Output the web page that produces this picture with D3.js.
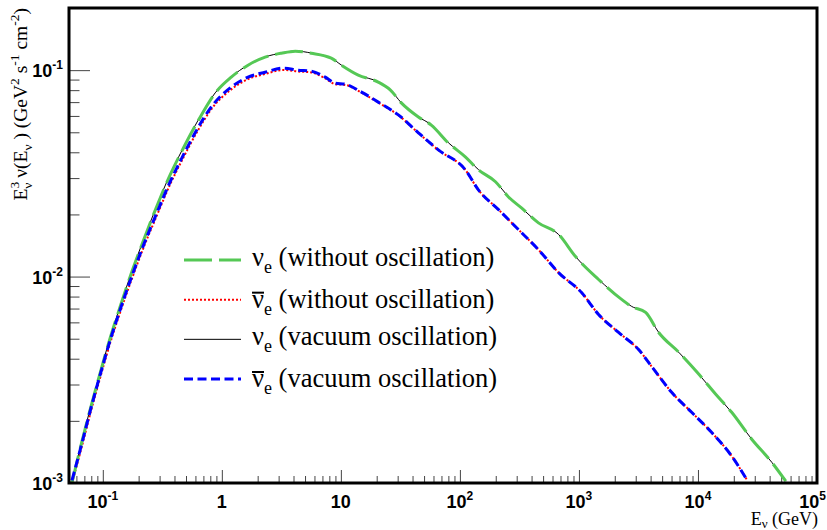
<!DOCTYPE html>
<html>
<head>
<meta charset="utf-8">
<script src="https://cdn.jsdelivr.net/npm/d3@7"></script>
<style>
body { margin:0; background:#fff; }
text.serif { font-family: "Liberation Serif", "Times New Roman", Times, "DejaVu Serif", serif; }
text.sans { font-family: "Liberation Sans", Arial, Helvetica, sans-serif; font-weight: bold; font-size: 18px; }
</style>
</head>
<body>
<div id="chart"></div>
<script>
// nu_e : energy (GeV) and E^3 flux (GeV^2 s^-1 cm^-2)
var energyNu = [0.055,0.0668,0.078,0.0948,0.115,0.140,0.176,0.222,0.286,0.367,0.463,0.632,0.879,1.20,1.66,2.31,3.16,4.14,5.64,8.30,10.1,14.0,20.6,26.1,32.2,44.8,57.5,80.0,111,143,199,256,329,457,674,936,1462,2282,2772,3633,4677,6887,10140,14100,19200,28300,41700,54700];
var fluxNuNoOsc = [1.0e-3,1.59e-3,2.25e-3,3.40e-3,5.01e-3,7.16e-3,1.06e-2,1.52e-2,2.21e-2,3.10e-2,4.07e-2,5.69e-2,7.74e-2,9.25e-2,0.1057,0.1156,0.1208,0.1236,0.1208,0.1143,0.1057,0.0946,0.0875,0.0800,0.0694,0.0593,0.0542,0.0444,0.0380,0.0329,0.0288,0.0243,0.0215,0.0182,0.0160,0.0125,0.00968,0.00775,0.00716,0.00670,0.00536,0.00430,0.00337,0.00269,0.00220,0.00163,0.00126,0.00102];
var fluxNuVacuum = [1.01e-3,1.60e-3,2.27e-3,3.42e-3,5.04e-3,7.20e-3,1.065e-2,1.53e-2,2.22e-2,3.12e-2,4.09e-2,5.72e-2,7.76e-2,9.27e-2,0.1059,0.1158,0.1210,0.1238,0.1210,0.1145,0.1058,0.0948,0.0877,0.0801,0.0695,0.0594,0.0543,0.0445,0.0381,0.0330,0.0288,0.0244,0.0215,0.0182,0.0160,0.0125,0.00969,0.00776,0.00717,0.00670,0.00537,0.00430,0.00337,0.00269,0.00220,0.00163,0.00126,0.00102];
// anti nu_e
var energyNuBar = [0.0551,0.0668,0.078,0.0948,0.115,0.140,0.176,0.222,0.286,0.367,0.463,0.632,0.813,1.20,1.66,2.31,3.28,4.38,5.64,7.39,8.97,10.9,14.9,20.6,30.4,44.8,65.9,111,143,211,310,457,674,1052,1462,2153,3170,4080,6010,8850,13000,19200,25700];
var fluxNuBarNoOsc = [1.0e-3,1.51e-3,2.14e-3,3.22e-3,4.74e-3,6.72e-3,9.80e-3,1.40e-2,1.99e-2,2.79e-2,3.66e-2,5.12e-2,6.45e-2,8.07e-2,9.05e-2,9.58e-2,0.1002,0.0985,0.0975,0.0912,0.0855,0.0848,0.0778,0.0697,0.0605,0.0496,0.0410,0.0329,0.0263,0.0211,0.0169,0.0135,0.01045,0.00837,0.00655,0.00536,0.00443,0.00367,0.00275,0.00220,0.00176,0.00135,0.00104];
var fluxNuBarVacuum = [1.03e-3,1.56e-3,2.21e-3,3.33e-3,4.89e-3,6.93e-3,1.01e-2,1.44e-2,2.05e-2,2.87e-2,3.77e-2,5.27e-2,6.62e-2,8.28e-2,9.25e-2,9.77e-2,0.1023,0.1000,0.0989,0.0925,0.0865,0.0855,0.0783,0.0700,0.0607,0.0497,0.0411,0.0329,0.0263,0.0211,0.0169,0.0135,0.01045,0.00837,0.00655,0.00536,0.00443,0.00367,0.00275,0.00220,0.00176,0.00135,0.00104];

var xMajor = [0.1,1,10,100,1000,10000,100000];
var xLabels = [['10','-1'],['1',''],['10',''],['10','2'],['10','3'],['10','4'],['10','5']];
var yMajor = [0.001,0.01,0.1];
var yLabels = [['10','-3'],['10','-2'],['10','-1']];
var legendNames = ['(without oscillation)','(without oscillation)','(vacuum oscillation)','(vacuum oscillation)'];

var W = 827, H = 530;
var fr = {l:69, r:817, t:8, b:483};
var serifFont = '"Liberation Serif", "Times New Roman", Times, "DejaVu Serif", serif';

var svg = d3.select('#chart').append('svg').attr('width',W).attr('height',H);

var x = d3.scaleLog().domain([0.052,1e5]).range([fr.l,fr.r]);
var y = d3.scaleLog().domain([1e-3,0.2]).range([fr.b,fr.t]);

var isPow = v => Math.abs(Math.log10(v) - Math.round(Math.log10(v))) < 1e-6;

// ticks (inward, like ROOT)
function ticks(axis, vals, len, tr) {
    var g = svg.append('g').attr('transform',tr)
        .call(axis.tickValues(vals).tickSize(-len).tickFormat(''));
    g.select('.domain').remove();
    g.selectAll('line').attr('stroke','#444');
}
ticks(d3.axisBottom(x), x.ticks().filter(v=>!isPow(v)), 7, 'translate(0,'+fr.b+')');
ticks(d3.axisBottom(x), xMajor, 13, 'translate(0,'+fr.b+')');
ticks(d3.axisLeft(y), y.ticks().filter(v=>!isPow(v)), 10.5, 'translate('+fr.l+',0)');
ticks(d3.axisLeft(y), yMajor, 21, 'translate('+fr.l+',0)');

svg.append('clipPath').attr('id','clip').append('rect')
    .attr('x',fr.l).attr('y',fr.t).attr('width',fr.r-fr.l).attr('height',fr.b-fr.t);

var series = [
    {e:energyNuBar, f:fluxNuBarNoOsc, c:'#ff0000', w:2, d:'2,2'},
    {e:energyNu, f:fluxNuVacuum, c:'#000000', w:1, d:null},
    {e:energyNu, f:fluxNuNoOsc, c:'#55c855', w:3, d:'28,7'},
    {e:energyNuBar, f:fluxNuBarVacuum, c:'#0000ff', w:3, d:'9,4.5'}
];
var line = d3.line().x(d=>x(d[0])).y(d=>y(d[1])).curve(d3.curveMonotoneX);
svg.append('g').attr('clip-path','url(#clip)').selectAll('path').data(series).enter()
    .append('path')
    .attr('d',s=>line(s.e.map((v,i)=>[v,s.f[i]])))
    .attr('fill','none').attr('stroke',s=>s.c).attr('stroke-width',s=>s.w)
    .attr('stroke-dasharray',s=>s.d);

// frame
svg.append('rect').attr('x',fr.l).attr('y',fr.t).attr('width',fr.r-fr.l).attr('height',fr.b-fr.t)
    .attr('fill','none').attr('stroke','#000').attr('stroke-width',3);

// tick labels
function powLabel(g, lab) {
    g.append('tspan').text(lab[0]);
    if (lab[1]) g.append('tspan').attr('dy',-8).style('font-size','12px').text(lab[1]);
}
svg.selectAll('.xl').data(xMajor).enter().append('text').attr('class','sans')
    .attr('x',(d,i)=>i==xMajor.length-1 ? W-1 : x(d)).attr('y',508)
    .attr('text-anchor',(d,i)=>i==xMajor.length-1 ? 'end' : 'middle')
    .each(function(d,i){ powLabel(d3.select(this), xLabels[i]); });
svg.selectAll('.yl').data(yMajor).enter().append('text').attr('class','sans')
    .attr('x',63).attr('y',d=>y(d)+7).attr('text-anchor','end')
    .each(function(d,i){ powLabel(d3.select(this), yLabels[i]); });

// axis titles
function rich(t, parts) {
    parts.forEach(p => {
        var s = t.append('tspan').text(p[0]);
        if (p[1]) s.attr('dy',p[1]);
        if (p[2]) s.style('font-size',p[2]+'px');
        if (p[3]) s.attr('dx',p[3]);
    });
}
var yt = svg.append('text').attr('class','serif').attr('font-family',serifFont)
    .attr('transform','translate(27,8) rotate(-90)')
    .attr('text-anchor','end').style('font-size','19.5px');
rich(yt, [['E'],['3',-8,13.5],['\u03bd',13,13.5,-7],[' \u03bd(E',-5],['\u03bd',5,13.5],[' ) (GeV',-5],['2',-8,13.5],[' s',8],['-1',-8,13.5],[' cm',8],['-2',-8,13.5],[')',8]]);

var xt = svg.append('text').attr('class','serif').attr('font-family',serifFont)
    .attr('x',818).attr('y',525).attr('text-anchor','end').style('font-size','18px');
rich(xt, [['E'],['\u03bd',3,13],[' (GeV)',-3]]);

// legend
var legend = [
    {s:series[2], bar:false, n:legendNames[0]},
    {s:series[0], bar:true, n:legendNames[1]},
    {s:series[1], bar:false, n:legendNames[2]},
    {s:series[3], bar:true, n:legendNames[3]}
];
var legY = d3.scalePoint().domain(d3.range(legend.length)).range([260,379]);
var lg = svg.selectAll('.leg').data(legend).enter().append('g')
    .attr('transform',(d,i)=>'translate(0,'+legY(i)+')');
lg.append('line').attr('x1',184).attr('x2',241).attr('y1',0).attr('y2',0)
    .attr('stroke',d=>d.s.c).attr('stroke-width',d=>d.s.w).attr('stroke-dasharray',d=>d.s.d);
lg.each(function(d){
    var g = d3.select(this);
    var base = d.bar ? 8 : 6;
    var t = g.append('text').attr('class','serif').attr('font-family',serifFont)
        .attr('x',252).attr('y',base).style('font-size','26.5px');
    var nu = t.append('tspan').text('\u03bd');
    t.append('tspan').attr('dy',7).style('font-size','18px').text('e');
    t.append('tspan').attr('dy',-7).text(' ' + d.n);
    if (d.bar) {
        var w = nu.node().getComputedTextLength();
        g.append('line').attr('x1',252).attr('x2',252+w).attr('y1',base-15).attr('y2',base-15)
            .attr('stroke','#000').attr('stroke-width',2);
    }
});
</script>
</body>
</html>
